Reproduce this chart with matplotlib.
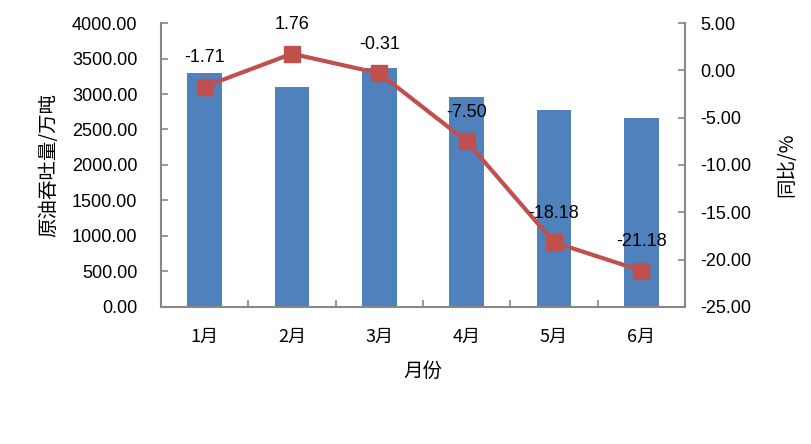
import matplotlib
matplotlib.use("Agg")
import matplotlib.pyplot as plt
from matplotlib.ticker import FormatStrFormatter, MultipleLocator, FixedLocator

plt.rcParams['font.family'] = ['Liberation Sans', 'Noto Sans CJK SC', 'DejaVu Sans']

months = ['1月', '2月', '3月', '4月', '5月', '6月']
throughput = [3295, 3095, 3365, 2955, 2770, 2660]
yoy = [-1.71, 1.76, -0.31, -7.50, -18.18, -21.18]
yoy_labels = ['-1.71', '1.76', '-0.31', '-7.50', '-18.18', '-21.18']

fig = plt.figure(figsize=(8.11, 4.44), dpi=100)
ax = fig.add_axes([0.1985, 0.309, 0.6461, 0.639])
x = list(range(len(months)))
ax.bar(x, throughput, width=0.4, color='#4F81BD', zorder=2)
ax.set_xlim(-0.5, 5.5)
ax.set_ylim(0, 4000)
ax.yaxis.set_major_locator(MultipleLocator(500))
ax.yaxis.set_major_formatter(FormatStrFormatter('%.2f'))
ax.set_xticks(x)
ax.set_xticklabels(months, fontsize=13, family=['Noto Sans CJK SC'])
ax.xaxis.set_minor_locator(FixedLocator([i + 0.5 for i in range(-1, 6)]))
ax.tick_params(axis='x', which='major', length=0, pad=15)
ax.tick_params(axis='x', which='minor', length=5, color='#888888', direction='in', width=1.2)
ax.tick_params(axis='y', length=5, color='#888888', direction='in', width=1.2, labelsize=13, pad=17)
for s in ['top', 'right']:
    ax.spines[s].set_visible(False)
for s in ['left', 'bottom']:
    ax.spines[s].set_color('#888888')
    ax.spines[s].set_linewidth(1.5)
ax.set_xlabel('月份', fontsize=14, family=['Noto Sans CJK SC'], labelpad=11)
ax.set_ylabel('原油吞吐量/万吨', fontsize=14, family=['Noto Sans CJK SC'], labelpad=9)

ax2 = ax.twinx()
ax2.plot(x, yoy, color='#C0504D', linewidth=3, marker='s', markersize=12, zorder=3)
ax2.set_ylim(-25, 5)
ax2.yaxis.set_major_locator(MultipleLocator(5))
ax2.yaxis.set_major_formatter(FormatStrFormatter('%.2f'))
ax2.tick_params(axis='y', length=5, color='#888888', direction='in', width=1.2, labelsize=13, pad=11)
for s in ['top', 'left', 'bottom']:
    ax2.spines[s].set_visible(False)
ax2.spines['right'].set_color('#888888')
ax2.spines['right'].set_linewidth(1.5)
ax2.set_ylabel('同比/%', fontsize=14, family=['Noto Sans CJK SC', 'DejaVu Sans'], rotation=90, labelpad=18)

for xi, yi, lab in zip(x, yoy, yoy_labels):
    ax2.annotate(lab, (xi, yi), xytext=(0, 21), textcoords='offset points',
                 ha='center', va='center', fontsize=13)

fig.savefig('out.png', dpi=100)
